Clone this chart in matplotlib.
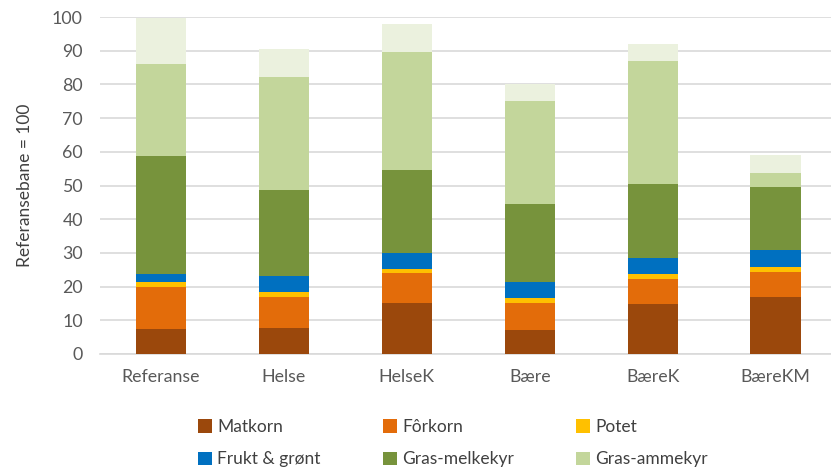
import matplotlib
matplotlib.use("Agg")
import matplotlib.pyplot as plt
import numpy as np

plt.rcParams['font.family'] = ['Lato', 'DejaVu Sans']

scenarios = ['Referanse', 'Helse', 'HelseK', 'Bære', 'BæreK', 'BæreKM']
matkorn = [7.4, 7.8, 15.2, 7.1, 14.9, 17.0]
forkorn = [12.5, 9.2, 8.9, 8.1, 7.5, 7.4]
potet = [1.5, 1.3, 1.1, 1.5, 1.4, 1.4]
frukt = [2.2, 4.7, 4.9, 4.7, 4.7, 5.0]
melkekyr = [35.3, 25.7, 24.5, 23.2, 22.0, 18.9]
ammekyr = [27.3, 33.5, 35.1, 30.5, 36.5, 4.1]
ovrig = [13.6, 8.2, 8.3, 5.0, 5.1, 5.3]

series = [
    ('Matkorn', matkorn, '#9B480C'),
    ('Fôrkorn', forkorn, '#E36C0A'),
    ('Potet', potet, '#FFC000'),
    ('Frukt & grønt', frukt, '#0070C0'),
    ('Gras-melkekyr', melkekyr, '#77933C'),
    ('Gras-ammekyr', ammekyr, '#C3D69B'),
    (None, ovrig, '#EBF1DE'),
]

fig = plt.figure(figsize=(8.31, 4.70), dpi=100)
ax = fig.add_axes([99.5 / 831, 116 / 470, (831 - 99.5) / 831, 337 / 470])

x = np.arange(len(scenarios))
bottom = np.zeros(len(scenarios))
handles = []
for name, vals, col in series:
    b = ax.bar(x, vals, 0.41, bottom=bottom, color=col, zorder=3)
    if name:
        handles.append((b, name))
    bottom += np.array(vals)

ax.set_ylim(0, 100)
ax.set_xlim(-0.5, 5.45)
ax.set_yticks(range(0, 101, 10))
ax.grid(axis='y', color='#D9D9D9', linewidth=1.2, zorder=0)
ax.set_xticks(x)
ax.set_xticklabels(scenarios)
ax.tick_params(axis='both', length=0, labelsize=12.8, colors='#595959')
ax.tick_params(axis='x', pad=11)
ax.tick_params(axis='y', pad=12)
for s in ['top', 'right', 'left']:
    ax.spines[s].set_visible(False)
ax.spines['bottom'].set_color('#D9D9D9')
ax.spines['bottom'].set_linewidth(1.2)
ax.set_ylabel('Referansebane = 100', fontsize=12.5, color='#404040', labelpad=14)

# legend: rows are Matkorn/Fôrkorn/Potet and Frukt/Gras-melk/Gras-amme
order = [0, 3, 1, 4, 2, 5]
fig.legend([handles[i][0] for i in order], [handles[i][1] for i in order],
           ncol=3, loc='center', bbox_to_anchor=(0.545, 0.057),
           frameon=False, fontsize=12.5, labelcolor='#404040',
           handlelength=0.8, handleheight=0.8, handletextpad=0.3,
           columnspacing=3.6, labelspacing=0.95)

fig.savefig('out.png', dpi=100)
